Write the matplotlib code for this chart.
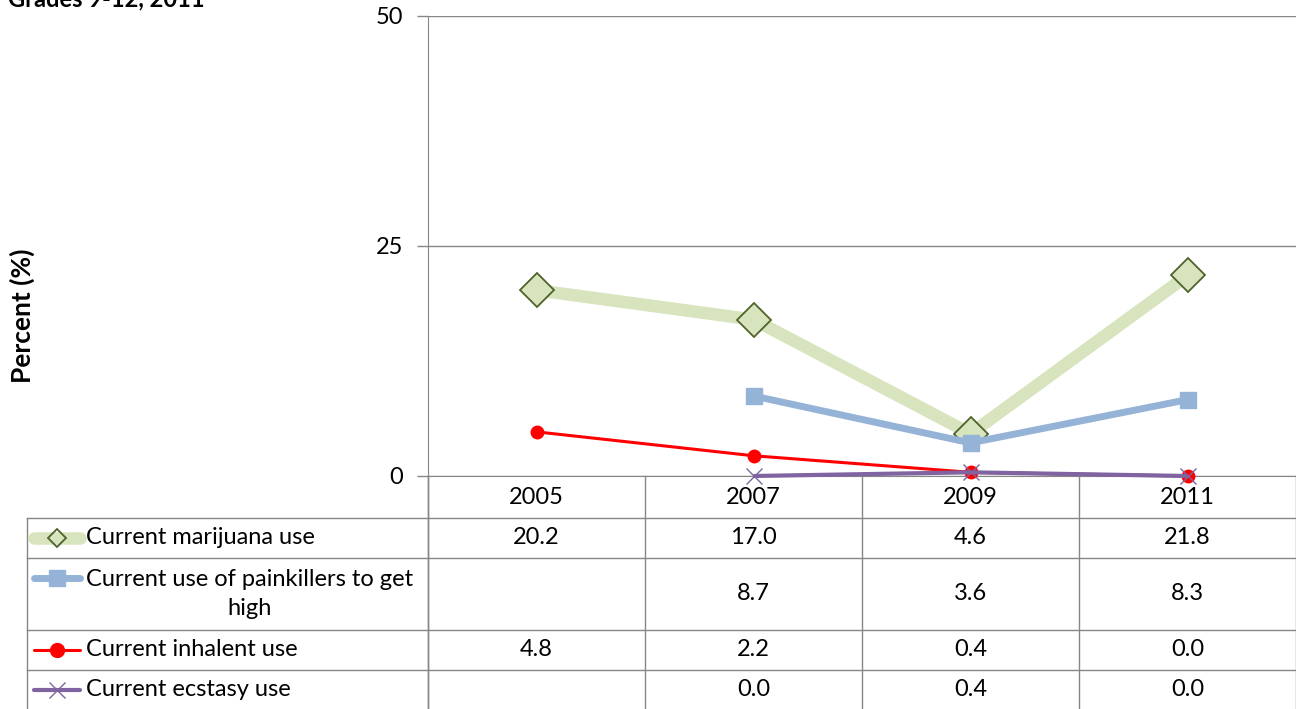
import numpy as np
import matplotlib
matplotlib.use("Agg")
import matplotlib.pyplot as plt
from matplotlib.transforms import blended_transform_factory
from matplotlib.lines import Line2D

plt.rcParams['font.family'] = ['Lato', 'DejaVu Sans']

years = ["2005", "2007", "2009", "2011"]
series_names = ["Current marijuana use",
                "Current use of painkillers to get\nhigh",
                "Current inhalent use",
                "Current ecstasy use"]
marijuana = [20.2, 17.0, 4.6, 21.8]
painkillers = [np.nan, 8.7, 3.6, 8.3]
inhalent = [4.8, 2.2, 0.4, 0.0]
ecstasy = [np.nan, 0.0, 0.4, 0.0]
yticks = [0, 25, 50]

FS = 17
W, H = 1296, 709
fig = plt.figure(figsize=(W/100, H/100), dpi=100)
ax_l, ax_r, ax_t, ax_b = 428, 1296, 16, 476
ax = fig.add_axes([ax_l/W, 1-ax_b/H, (ax_r-ax_l)/W, (ax_b-ax_t)/H])

x = np.arange(len(years))
styles = [
    dict(color='#D7E4BD', lw=9, marker='D', ms=17, mfc='#D7E4BD', mec='#4F6228', mew=1.3, zorder=2),
    dict(color='#95B3D7', lw=5, marker='s', ms=12, mfc='#95B3D7', mec='#95B3D7', mew=1, zorder=3),
    dict(color='#FF0000', lw=2.2, marker='o', ms=9, mfc='#FF0000', mec='#FF0000', mew=1, zorder=4),
    dict(color='#8064A2', lw=3, marker='x', ms=11, mfc='#8064A2', mec='#8064A2', mew=1.0, zorder=5),
]
data = [marijuana, painkillers, inhalent, ecstasy]
for vals, st in zip(data, styles):
    ax.plot(x, vals, clip_on=False, solid_capstyle='butt', **st)

ax.set_xlim(-0.5, 3.5)
ax.set_ylim(0, 50)
ax.set_yticks(yticks)
ax.set_yticklabels([str(t) for t in yticks], fontsize=FS)
ax.set_xticks([])
ax.grid(axis='y', color='#868686', lw=1)
ax.set_axisbelow(True)
for s in ['top', 'right']:
    ax.spines[s].set_visible(False)
ax.spines['left'].set_color('#868686')
ax.spines['bottom'].set_color('#868686')
ax.tick_params(axis='y', length=8, color='#868686', pad=10, width=1)

# table
gray = '#868686'
axh = ax_b - ax_t
def ay(ypx):
    return (ax_b - ypx) / axh
trans = blended_transform_factory(ax.transData, ax.transAxes)
def xl(px):
    return (px - ax_l) / (ax_r - ax_l)
tf = ax.transAxes

row_edges = [476, 518, 558, 630, 670, 709]
for ypx in row_edges[1:-1]:
    ax.add_line(Line2D([xl(27), 1], [ay(ypx), ay(ypx)], transform=tf, color=gray, lw=1, clip_on=False))
ax.add_line(Line2D([xl(27), xl(27)], [ay(518), ay(709)], transform=tf, color=gray, lw=1, clip_on=False))
ax.add_line(Line2D([0, 0], [ay(476), ay(709)], transform=tf, color=gray, lw=1, clip_on=False))
for b in np.arange(len(years) + 1) - 0.5:
    ax.add_line(Line2D([b, b], [ay(476), ay(709)], transform=trans, color=gray, lw=1, clip_on=False))

for i, yr in enumerate(years):
    ax.text(i, ay(497), yr, transform=trans, ha='center', va='center', fontsize=FS)

key_ms = [9, 11, 10, 11]
for r, (name, vals, st) in enumerate(zip(series_names, data, styles)):
    ytop, ybot = row_edges[r+1], row_edges[r+2]
    yc = ay((ytop + ybot) / 2)
    for i, v in enumerate(vals):
        if not np.isnan(v):
            ax.text(i, yc, f"{v:.1f}", transform=trans, ha='center', va='center', fontsize=FS)
    ykey = ay(ytop + 20)
    ax.add_line(Line2D([xl(34), xl(80)], [ykey, ykey], transform=tf, clip_on=False,
                       color=st['color'], lw=st['lw'], solid_capstyle='round'))
    ax.add_line(Line2D([xl(57)], [ykey], transform=tf, clip_on=False, linestyle='none',
                       marker=st['marker'], ms=key_ms[r], mfc=st['mfc'] if r != 0 else 'none',
                       mec=st['mec'], mew=st['mew']))
    if '\n' in name:
        ax.text(xl(86), yc, name, transform=tf, ha='left', va='center', fontsize=FS,
                multialignment='center', linespacing=1.45)
    else:
        ax.text(xl(86), ykey, name, transform=tf, ha='left', va='center', fontsize=FS)

fig.text(22/W, 1-316/H, "Percent (%)", rotation=90, ha='center', va='center',
         fontsize=19, fontweight='bold')
fig.text(8/W, 1-6/H, "Grades 9-12, 2011", ha='left', va='baseline',
         fontsize=17, fontweight='bold')

fig.savefig("out.png", dpi=100)
